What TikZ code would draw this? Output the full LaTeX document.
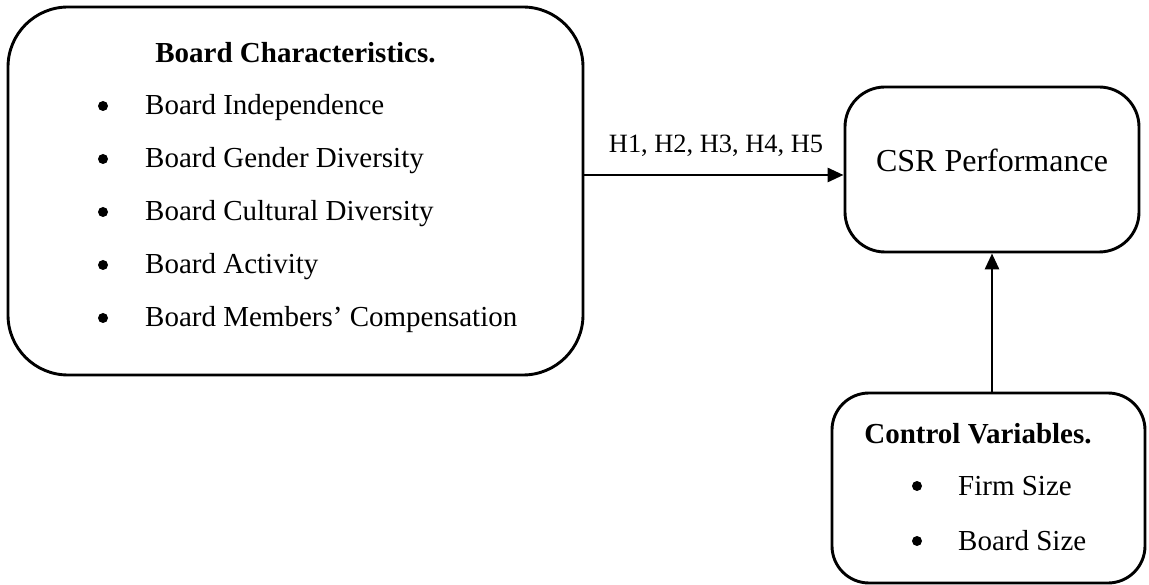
\documentclass[tikz,border=0pt]{standalone}
\usepackage{fontspec}
\setmainfont{Liberation Serif}
\usetikzlibrary{arrows.meta}
\begin{document}
\begin{tikzpicture}[x=1pt,y=-1pt,
  box/.style={draw,line width=2.9pt,rounded corners=#1,inner sep=0pt},
  txt/.style={inner sep=0pt,font=\fontsize{29}{34}\selectfont},
  ttl/.style={txt,font=\fontsize{29}{34}\selectfont\bfseries,anchor=base},
  itm/.style={txt,anchor=base west},
  bul/.style={circle,fill=black,inner sep=0pt,minimum size=10pt},
  conn/.style={line width=2.9pt,-{Triangle[length=16pt,width=14pt]}}]
\useasboundingbox (0,0) rectangle (1149,585);
% boxes
\node[box=60pt,minimum width=575pt,minimum height=368pt] (lb) at (295.5,191) {};
\node[box=40pt,minimum width=294pt,minimum height=165pt] (csr) at (992,169.5) {};
\node[box=37pt,minimum width=313pt,minimum height=190pt] (ctrl) at (988.5,488) {};
% left box texts
\node[ttl] (t1) at (295.5,63) {Board Characteristics.};
\foreach \y/\s [count=\i] in {115/Board Independence,168/Board Gender Diversity,221/Board Cultural Diversity,274/Board Activity,327/Board Members’ Compensation}{
  \node[bul] (b\i) at (103,\y-9) {};
  \node[itm] (i\i) at (145,\y) {\s};
}
% CSR text
\node[inner sep=0pt,anchor=base,font=\fontsize{32}{38}\selectfont] (ct) at (992,172) {CSR Performance};
% control texts
\node[ttl] (t2) at (978,443) {Control Variables.};
\node[bul] (cb1) at (917,486) {};
\node[itm] (ci1) at (958,495) {Firm Size};
\node[bul] (cb2) at (917,541) {};
\node[itm] (ci2) at (958,550) {Board Size};
% connectors
\coordinate (a) at (0,175);
\draw[conn] (lb.east |- a) -- (csr.west |- a);
\node[inner sep=0pt,anchor=base,font=\fontsize{26.4}{31}\selectfont] (h) at (716,153) {H1, H2, H3, H4, H5};
\draw[conn] (ctrl.north -| csr.south) -- (csr.south);
\end{tikzpicture}
\end{document}
